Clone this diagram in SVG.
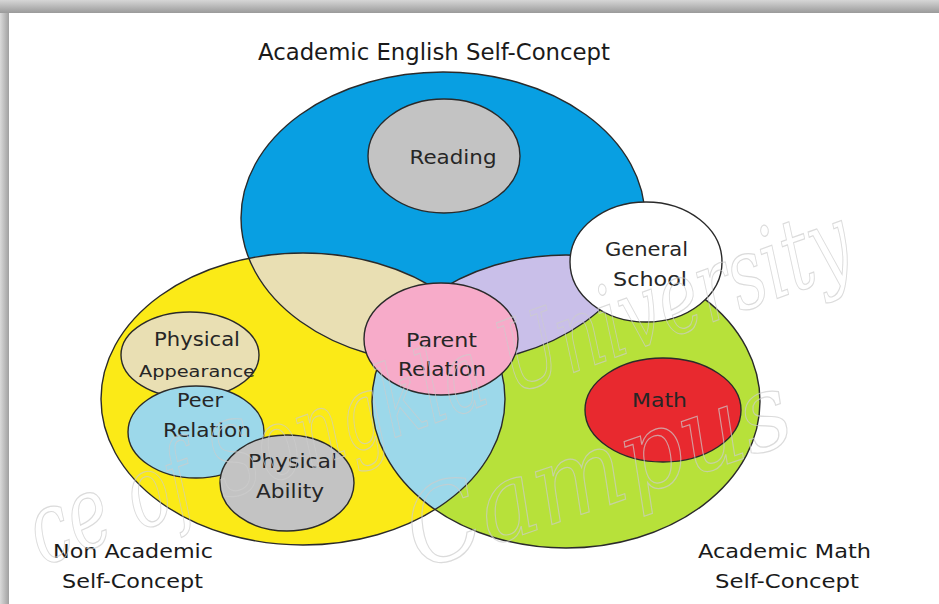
<svg xmlns="http://www.w3.org/2000/svg" width="939" height="604" viewBox="0 0 939 604">
<style>
.ol{fill:none;stroke:#2a2a2a;stroke-width:1.4}
.nd{stroke:#2a2a2a;stroke-width:1.4}
.t{font-family:"DejaVu Sans",Verdana,sans-serif;font-size:19px;fill:#262626;text-anchor:middle}
.lab{font-family:"DejaVu Sans",Verdana,sans-serif;font-size:19px;fill:#1a1a1a}
.ttl{font-family:"DejaVu Sans Condensed","DejaVu Sans",sans-serif;font-size:23px;fill:#1a1a1a}
.wm{font-family:"DejaVu Serif",serif;font-style:italic;fill:none;stroke:#cdcdcd;stroke-width:1.2;opacity:0.7}
</style>
<defs>
<linearGradient id="gt" x1="0" y1="0" x2="0" y2="1"><stop offset="0" stop-color="#d6d6d6"/><stop offset="1" stop-color="#9a9a9a"/></linearGradient>
<linearGradient id="gl" x1="0" y1="0" x2="1" y2="0"><stop offset="0" stop-color="#dadada"/><stop offset="1" stop-color="#a0a0a0"/></linearGradient>
<clipPath id="cB"><ellipse cx="443" cy="218" rx="202" ry="146"/></clipPath>
<clipPath id="cY"><ellipse cx="303" cy="399" rx="202" ry="146"/></clipPath>
</defs>

<rect x="0" y="0" width="939" height="604" fill="#ffffff"/>
<rect x="0" y="0" width="939" height="13" fill="url(#gt)"/>
<rect x="0" y="13" width="9" height="591" fill="url(#gl)"/>

<text x="258" y="60" class="ttl" textLength="352" lengthAdjust="spacingAndGlyphs">Academic English  Self-Concept</text>

<g id="non-academic">
<ellipse cx="303" cy="399" rx="202" ry="146" fill="#fbea17"/>
<text x="53" y="558" class="lab" textLength="160" lengthAdjust="spacingAndGlyphs">Non Academic</text>
<text x="62" y="588" class="lab" textLength="141" lengthAdjust="spacingAndGlyphs">Self-Concept</text>
</g>
<g id="academic-math">
<ellipse cx="566" cy="401.5" rx="194" ry="146.5" fill="#b7e13a"/>
<text x="698" y="558" class="lab" textLength="173" lengthAdjust="spacingAndGlyphs">Academic Math</text>
<text x="715" y="588" class="lab" textLength="144" lengthAdjust="spacingAndGlyphs">Self-Concept</text>
</g>
<g id="academic-english">
<ellipse cx="443" cy="218" rx="202" ry="146" fill="#089fe2"/>
</g>
<g id="overlaps">
<ellipse cx="303" cy="399" rx="202" ry="146" fill="#e9dfb3" clip-path="url(#cB)"/>
<ellipse cx="566" cy="401.5" rx="194" ry="146.5" fill="#c9bfe9" clip-path="url(#cB)"/>
<ellipse cx="566" cy="401.5" rx="194" ry="146.5" fill="#9cd8ea" clip-path="url(#cY)"/>
</g>
<g id="outlines">
<ellipse class="ol" cx="303" cy="399" rx="202" ry="146"/>
<ellipse class="ol" cx="566" cy="401.5" rx="194" ry="146.5"/>
<ellipse class="ol" cx="443" cy="218" rx="202" ry="146"/>
</g>

<g id="reading">
<ellipse class="nd" cx="444" cy="156" rx="76" ry="57" fill="#c3c3c3"/>
<text x="453" y="164" class="t" textLength="87" lengthAdjust="spacingAndGlyphs">Reading</text>
</g>
<g id="general-school">
<ellipse class="nd" cx="646" cy="262" rx="76" ry="60" fill="#ffffff"/>
<text x="646.5" y="256" class="t" textLength="83" lengthAdjust="spacingAndGlyphs">General</text>
<text x="650" y="286" class="t" textLength="74" lengthAdjust="spacingAndGlyphs">School</text>
</g>
<g id="math">
<ellipse class="nd" cx="663" cy="410" rx="78" ry="52" fill="#e8292f"/>
<text x="659.5" y="407" class="t" textLength="55" lengthAdjust="spacingAndGlyphs">Math</text>
</g>
<g id="parent-relation">
<ellipse class="nd" cx="441" cy="339" rx="77" ry="56" fill="#f7abc9"/>
<text x="441.5" y="347" class="t" textLength="71" lengthAdjust="spacingAndGlyphs">Parent</text>
<text x="442" y="376" class="t" textLength="88" lengthAdjust="spacingAndGlyphs">Relation</text>
</g>
<g id="physical-appearance">
<ellipse class="nd" cx="190" cy="355" rx="69" ry="43" fill="#e9dfb3"/>
<text x="197" y="346" class="t" textLength="86" lengthAdjust="spacingAndGlyphs">Physical</text>
<text x="197" y="377" class="t" style="font-size:16px" textLength="116" lengthAdjust="spacingAndGlyphs">Appearance</text>
</g>
<g id="peer-relation">
<ellipse class="nd" cx="196" cy="432" rx="68" ry="46" fill="#9cd8ea"/>
<text x="200" y="407" class="t" textLength="46" lengthAdjust="spacingAndGlyphs">Peer</text>
<text x="207" y="437" class="t" textLength="88" lengthAdjust="spacingAndGlyphs">Relation</text>
</g>
<g id="physical-ability">
<ellipse class="nd" cx="287" cy="483" rx="67" ry="48" fill="#c3c3c3"/>
<text x="292.5" y="468" class="t" textLength="89" lengthAdjust="spacingAndGlyphs">Physical</text>
<text x="290" y="498" class="t" textLength="68" lengthAdjust="spacingAndGlyphs">Ability</text>
</g>

<g id="watermark">
<text class="wm" style="font-size:100px" transform="translate(42 566) rotate(-20) scale(0.7 1)">ce of Songkla University</text>
<text class="wm" style="font-size:106px" transform="translate(420 570) rotate(-19) scale(0.92 1)">Campus</text>
</g>
</svg>
